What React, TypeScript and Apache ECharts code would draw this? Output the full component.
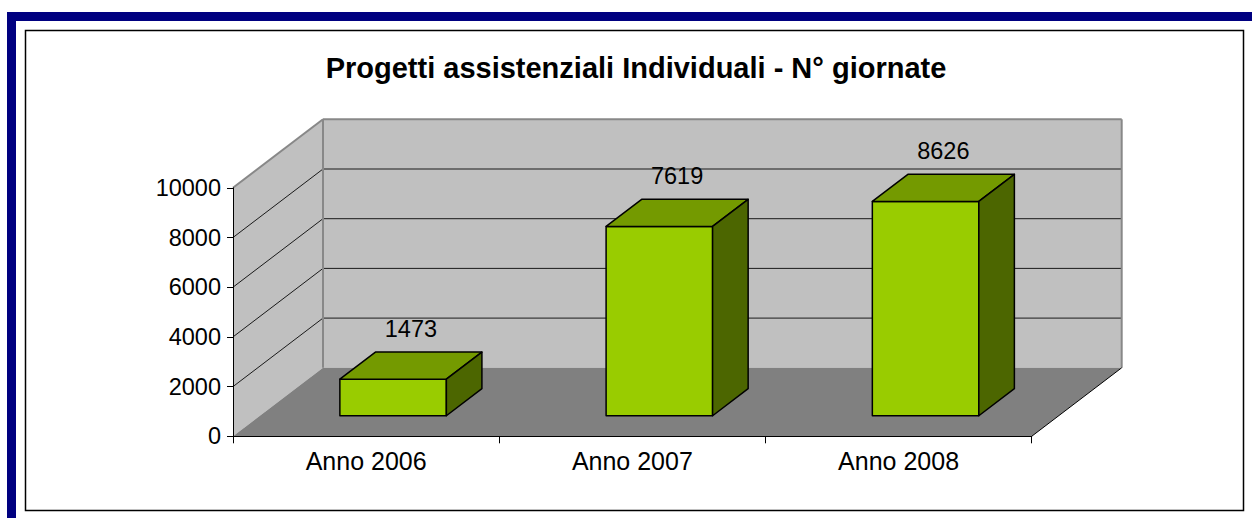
import React, { useEffect, useRef } from "react";
import * as echarts from "echarts";

const categories = ["Anno 2006", "Anno 2007", "Anno 2008"];
const values = [1473, 7619, 8626];
const yTicks = [0, 2000, 4000, 6000, 8000, 10000];
const titleText = "Progetti assistenziali Individuali - N° giornate";

const DX = 90;
const DY = -68.5;
const F1 = 0.3;
const F2 = 0.695;
const BAR_W = 0.4;
const FONT = '"Liberation Sans", Arial, Helvetica, sans-serif';

export default function App() {
  const ref = useRef<HTMLDivElement>(null);
  useEffect(() => {
    document.body.style.margin = "0";
    const chart = echarts.init(ref.current!, null, { renderer: "svg" });
    const yMax = yTicks[yTicks.length - 1];
    const option: any = {
      animation: false,
      backgroundColor: "#ffffff",
      title: {
        text: titleText,
        left: 631,
        top: 48,
        textAlign: "center",
        textStyle: { fontFamily: FONT, fontSize: 29, fontWeight: "bold", color: "#000" },
      },
      graphic: [
        { type: "rect", z: -100, shape: { x: 7, y: 12, width: 1300, height: 600 }, style: { fill: "#000080" } },
        { type: "rect", z: -99, shape: { x: 16, y: 21, width: 1300, height: 600 }, style: { fill: "#ffffff" } },
        {
          type: "rect",
          z: -98,
          shape: { x: 25.5, y: 30.5, width: 1218, height: 480 },
          style: { fill: "#ffffff", stroke: "#000", lineWidth: 1.5 },
        },
      ],
      grid: { left: 233, right: 220.3, top: 187.8, bottom: 81.7, containLabel: false },
      xAxis: {
        type: "category",
        data: categories,
        z: 10,
        boundaryGap: true,
        axisLine: { show: true, lineStyle: { color: "#000", width: 1 } },
        axisTick: { show: true, length: 7, lineStyle: { color: "#000" } },
        axisLabel: { fontFamily: FONT, fontSize: 25, color: "#000", margin: 12 },
        splitLine: { show: false },
      },
      yAxis: {
        type: "value",
        min: 0,
        max: yMax,
        interval: 2000,
        z: 10,
        axisLine: { show: true, lineStyle: { color: "#000", width: 1 } },
        axisTick: { show: true, length: 6, lineStyle: { color: "#000" } },
        axisLabel: {
          fontFamily: FONT,
          fontSize: 23.5,
          color: "#000",
          margin: 12,
          formatter: (v: number) => String(v),
        },
        splitLine: { show: false },
      },
      series: [
        {
          type: "custom",
          z: 1,
          silent: true,
          data: [[0, 0]],
          encode: { x: 0, y: 1 },
          renderItem: (params: any, api: any) => {
            const cs = params.coordSys;
            const xl = cs.x;
            const xr = cs.x + cs.width;
            const yt = cs.y;
            const yb = cs.y + cs.height;
            const children: any[] = [];
            children.push({
              type: "polygon",
              shape: { points: [[xl, yb], [xl, yt], [xl + DX, yt + DY], [xl + DX, yb + DY]] },
              style: { fill: "#C0C0C0" },
            });
            children.push({
              type: "polygon",
              shape: { points: [[xl + DX, yt + DY], [xr + DX, yt + DY], [xr + DX, yb + DY], [xl + DX, yb + DY]] },
              style: { fill: "#C0C0C0" },
            });
            children.push({
              type: "polygon",
              shape: { points: [[xl, yb], [xr, yb], [xr + DX, yb + DY], [xl + DX, yb + DY]] },
              style: { fill: "#808080" },
            });
            yTicks.forEach((v) => {
              if (v === 0 || v === yMax) return;
              const y = api.coord([0, v])[1];
              children.push({
                type: "line",
                shape: { x1: xl, y1: y, x2: xl + DX, y2: y + DY },
                style: { stroke: "#1a1a1a", lineWidth: 1 },
              });
              children.push({
                type: "line",
                shape: { x1: xl + DX, y1: y + DY, x2: xr + DX, y2: y + DY },
                style: { stroke: "#1a1a1a", lineWidth: 1 },
              });
            });
            const edge = { stroke: "#888888", lineWidth: 2 };
            children.push({ type: "line", shape: { x1: xl, y1: yt, x2: xl + DX, y2: yt + DY }, style: edge });
            children.push({ type: "line", shape: { x1: xl + DX, y1: yt + DY, x2: xr + DX, y2: yt + DY }, style: edge });
            children.push({ type: "line", shape: { x1: xl + DX, y1: yt + DY, x2: xl + DX, y2: yb + DY }, style: edge });
            children.push({ type: "line", shape: { x1: xr + DX, y1: yt + DY, x2: xr + DX, y2: yb + DY }, style: edge });
            children.push({
              type: "line",
              shape: { x1: xr, y1: yb, x2: xr + DX, y2: yb + DY },
              style: { stroke: "#000", lineWidth: 1 },
            });
            return { type: "group", children };
          },
        },
        {
          type: "custom",
          z: 3,
          silent: true,
          data: values.map((v, i) => [i, v]),
          encode: { x: 0, y: 1 },
          renderItem: (params: any, api: any) => {
            const idx = api.value(0);
            const val = api.value(1);
            const base = api.coord([idx, 0]);
            const top = api.coord([idx, val]);
            const w = api.size([1, 0])[0] * BAR_W;
            const cx = base[0];
            const x1 = cx - w / 2 + F1 * DX;
            const x2 = cx + w / 2 + F1 * DX;
            const yB = base[1] + F1 * DY;
            const yT = top[1] + F1 * DY;
            const ddx = (F2 - F1) * DX;
            const ddy = (F2 - F1) * DY;
            const st = { stroke: "#000", lineWidth: 1.5, lineJoin: "round" };
            return {
              type: "group",
              children: [
                {
                  type: "polygon",
                  shape: { points: [[x1, yB], [x2, yB], [x2, yT], [x1, yT]] },
                  style: { ...st, fill: "#99CC00" },
                },
                {
                  type: "polygon",
                  shape: { points: [[x1, yT], [x2, yT], [x2 + ddx, yT + ddy], [x1 + ddx, yT + ddy]] },
                  style: { ...st, fill: "#749A00" },
                },
                {
                  type: "polygon",
                  shape: { points: [[x2, yB], [x2 + ddx, yB + ddy], [x2 + ddx, yT + ddy], [x2, yT]] },
                  style: { ...st, fill: "#4C6600" },
                },
                {
                  type: "text",
                  x: cx + ((F1 + F2) / 2) * DX,
                  y: yT + ddy - 23,
                  style: {
                    text: String(val),
                    fontFamily: FONT,
                    fontSize: 23.5,
                    fill: "#000",
                    align: "center",
                    verticalAlign: "middle",
                  },
                },
              ],
            };
          },
        },
      ],
    };
    chart.setOption(option);
    return () => chart.dispose();
  }, []);
  return <div ref={ref} style={{ position: "fixed", left: 0, top: 0, width: 1252, height: 518 }} />;
}
